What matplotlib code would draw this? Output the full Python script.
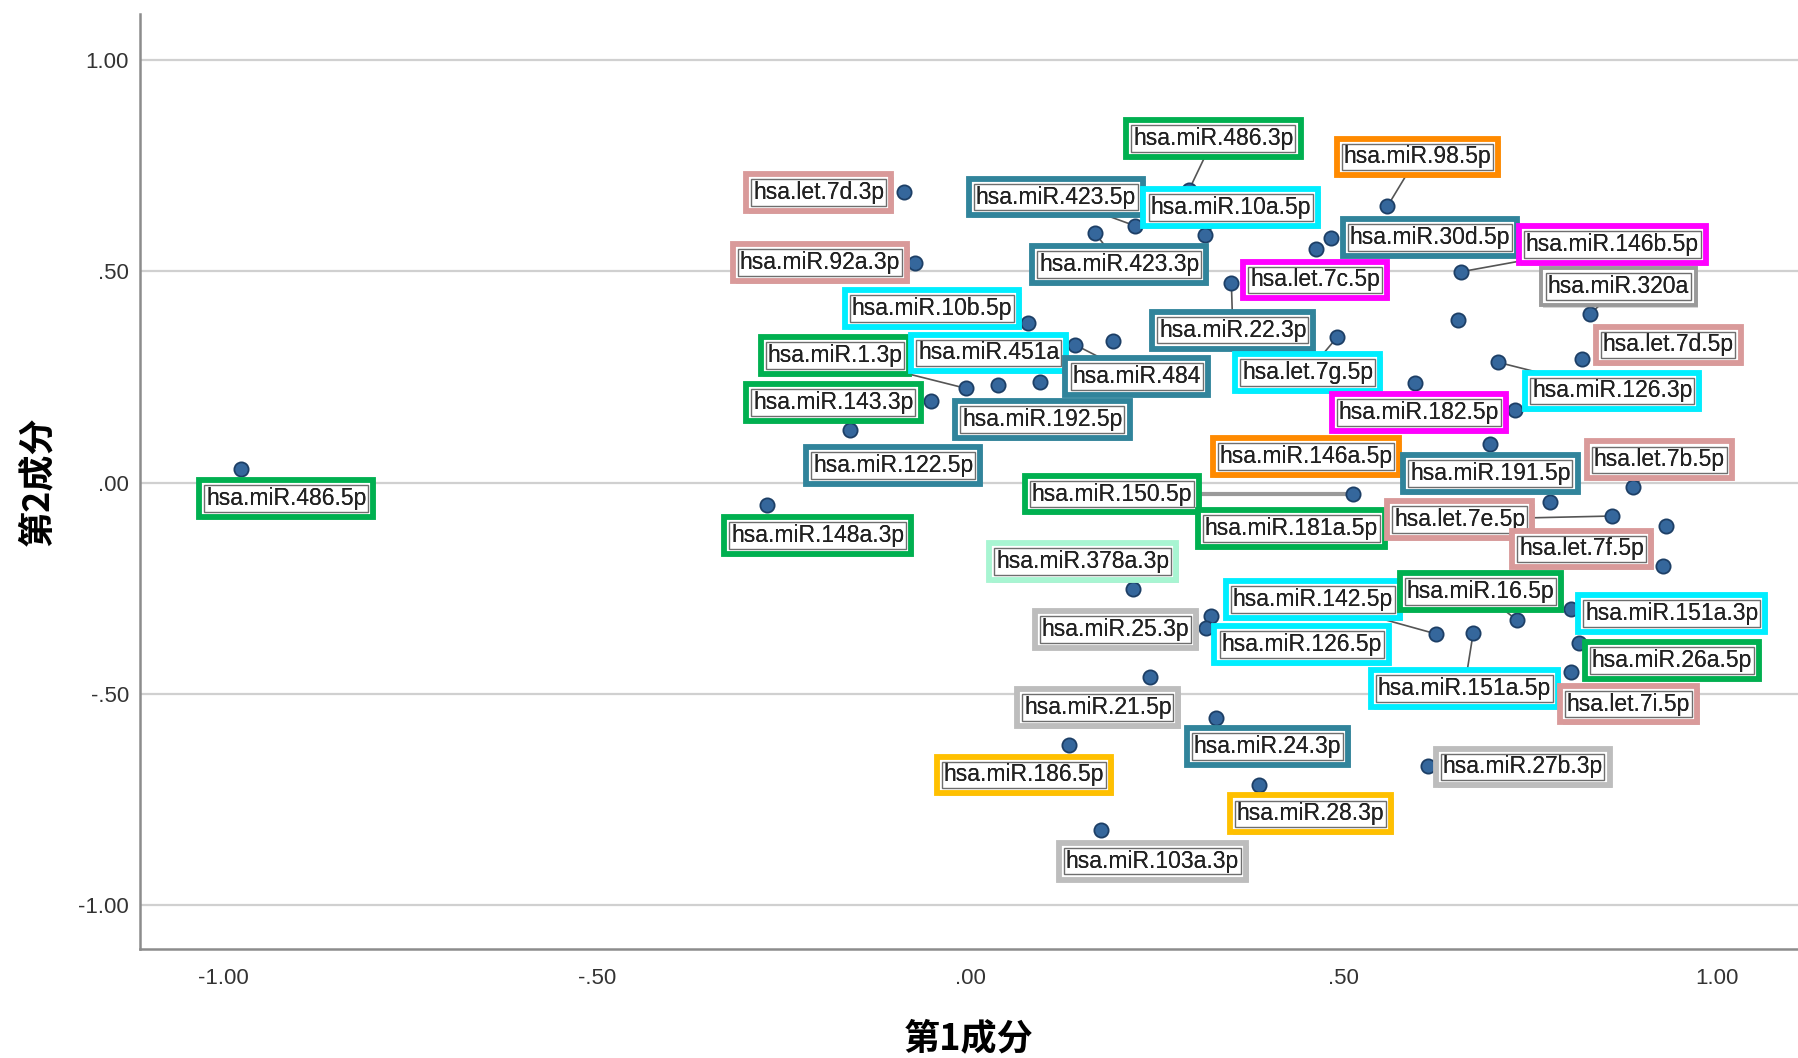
import numpy as np
import matplotlib
matplotlib.use("Agg")
from matplotlib import pyplot as plt
import matplotlib.patheffects as pe

# component loadings (first / second component) for each miRNA
names = ["hsa.miR.486.5p", "hsa.let.7d.3p", "hsa.miR.92a.3p", "hsa.miR.486.3p", "hsa.miR.98.5p",
         "hsa.miR.423.5p", "hsa.miR.10a.5p", "hsa.miR.423.3p", "hsa.miR.30d.5p", "hsa.miR.146b.5p",
         "hsa.let.7c.5p", "hsa.miR.320a", "hsa.miR.10b.5p", "hsa.miR.22.3p", "hsa.let.7d.5p",
         "hsa.miR.1.3p", "hsa.miR.451a", "hsa.miR.484", "hsa.let.7g.5p", "hsa.miR.126.3p",
         "hsa.miR.143.3p", "hsa.miR.192.5p", "hsa.miR.182.5p", "hsa.miR.122.5p", "hsa.miR.146a.5p",
         "hsa.miR.191.5p", "hsa.let.7b.5p", "hsa.miR.150.5p", "hsa.miR.181a.5p", "hsa.let.7e.5p",
         "hsa.miR.148a.3p", "hsa.let.7f.5p", "hsa.miR.378a.3p", "hsa.miR.142.5p", "hsa.miR.16.5p",
         "hsa.miR.151a.3p", "hsa.miR.25.3p", "hsa.miR.126.5p", "hsa.miR.26a.5p", "hsa.miR.151a.5p",
         "hsa.let.7i.5p", "hsa.miR.21.5p", "hsa.miR.24.3p", "hsa.miR.186.5p", "hsa.miR.27b.3p",
         "hsa.miR.28.3p", "hsa.miR.103a.3p"]
comp1 = [-0.977, -0.088, -0.074, 0.293, 0.559, 0.221, 0.315, 0.167, 0.484, 0.657,
         0.464, 0.831, 0.077, 0.350, 0.820, -0.005, 0.037, 0.141, 0.492, 0.707,
         -0.052, 0.094, 0.730, -0.161, 0.697, 0.777, 0.888, 0.513, 0.596, 0.860,
         -0.272, 0.932, 0.218, 0.624, 0.733, 0.805, 0.323, 0.316, 0.816, 0.674,
         0.805, 0.241, 0.330, 0.132, 0.613, 0.387, 0.175]
comp2 = [0.033, 0.687, 0.521, 0.692, 0.654, 0.608, 0.586, 0.592, 0.578, 0.499,
         0.554, 0.399, 0.377, 0.472, 0.293, 0.223, 0.231, 0.326, 0.345, 0.285,
         0.193, 0.239, 0.171, 0.125, 0.092, -0.046, -0.011, -0.027, 0.236, -0.079,
         -0.052, -0.103, -0.252, -0.358, -0.326, -0.299, -0.315, -0.345, -0.380, -0.355,
         -0.448, -0.461, -0.556, -0.621, -0.670, -0.716, -0.822]
# where each point's label sits
label_x = [-0.916, -0.203, -0.201, 0.326, 0.599, 0.115, 0.349, 0.200, 0.616, 0.860,
           0.462, 0.868, -0.051, 0.352, 0.935, -0.181, 0.025, 0.223, 0.452, 0.860,
           -0.183, 0.097, 0.601, -0.103, 0.450, 0.697, 0.923, 0.190, 0.430, 0.656,
           -0.204, 0.819, 0.151, 0.459, 0.684, 0.940, 0.195, 0.444, 0.940, 0.662,
           0.882, 0.171, 0.398, 0.072, 0.740, 0.456, 0.244]
label_y = [-0.038, 0.687, 0.521, 0.814, 0.771, 0.676, 0.651, 0.516, 0.581, 0.564,
           0.480, 0.464, 0.412, 0.361, 0.326, 0.301, 0.307, 0.252, 0.261, 0.217,
           0.190, 0.149, 0.166, 0.041, 0.062, 0.022, 0.054, -0.027, -0.109, -0.087,
           -0.125, -0.157, -0.187, -0.277, -0.258, -0.309, -0.347, -0.383, -0.421, -0.488,
           -0.524, -0.532, -0.624, -0.692, -0.673, -0.784, -0.896]
groups = ["green", "pink", "pink", "green", "orange", "teal", "cyan", "teal", "teal", "magenta",
          "magenta", "dgray", "cyan", "teal", "pink", "green", "cyan", "teal", "cyan", "cyan",
          "green", "teal", "magenta", "teal", "orange", "teal", "pink", "green", "green", "pink",
          "green", "pink", "mint", "cyan", "green", "cyan", "gray", "cyan", "green", "cyan",
          "pink", "gray", "teal", "gold", "gray", "gold", "gray"]
# labels pushed away from their point get a connector
leaders = {"hsa.miR.486.3p", "hsa.miR.98.5p", "hsa.miR.423.5p", "hsa.miR.10a.5p", "hsa.miR.423.3p",
           "hsa.miR.146b.5p", "hsa.miR.320a", "hsa.miR.22.3p", "hsa.miR.484", "hsa.let.7g.5p",
           "hsa.miR.126.3p", "hsa.miR.1.3p", "hsa.let.7b.5p", "hsa.let.7e.5p", "hsa.miR.150.5p",
           "hsa.miR.142.5p", "hsa.miR.151a.5p", "hsa.miR.16.5p"}

# points whose labels were suppressed
extra_x = [0.654, 0.192, 0.928]
extra_y = [0.385, 0.336, -0.198]

palette = {"green": "#00b050", "pink": "#d99a9a", "teal": "#31849b", "cyan": "#00eeff",
           "orange": "#ff8a00", "magenta": "#ff00ff", "gray": "#bdbdbd", "dgray": "#9a9a9a",
           "gold": "#ffc000", "mint": "#a8f5d2"}

ticks = [-1.0, -0.5, 0.0, 0.5, 1.0]
tick_labels = ["-1.00", "-.50", ".00", ".50", "1.00"]

plt.rcParams['font.family'] = ['Liberation Sans', 'DejaVu Sans']

fig = plt.figure(figsize=(17.98, 10.58), dpi=100)
ax = fig.add_axes([0.0778, 0.103, 0.9222, 0.884])
ax.set_xlim(-1.112, 1.109)
ax.set_ylim(-1.104, 1.110)

ax.set_xticks(ticks)
ax.set_xticklabels(tick_labels)
ax.set_yticks(ticks)
ax.set_yticklabels(tick_labels)
ax.tick_params(length=0, labelsize=16, labelcolor="#333333")
ax.tick_params(axis='x', pad=14)
ax.tick_params(axis='y', pad=8)
ax.yaxis.grid(True, color="#d0d0d0", lw=1.6)
ax.set_axisbelow(True)
for s in ["top", "right"]:
    ax.spines[s].set_visible(False)
for s in ["left", "bottom"]:
    ax.spines[s].set_color("#8c8c8c")
    ax.spines[s].set_linewidth(1.8)

cjk = ['Noto Sans CJK SC', 'DejaVu Sans']
ax.set_xlabel("第1成分", family=cjk, fontsize=26, fontweight='bold', labelpad=22)
ax.set_ylabel("第2成分", family=cjk, fontsize=26, fontweight='bold', labelpad=16)

# connectors first, so labels cover the inner part
for n, x, y, lx, ly in zip(names, comp1, comp2, label_x, label_y):
    if n in leaders:
        if n == "hsa.miR.150.5p":
            ax.plot([x, lx], [y, ly], color="#9a9a9a", lw=3, zorder=2)
        else:
            ax.plot([x, lx], [y, ly], color="#555555", lw=1.2, zorder=2)

ax.scatter(comp1 + extra_x, comp2 + extra_y, s=105, c="#35679c", edgecolors="#1d3f66",
           linewidths=1.3, zorder=3)

for n, lx, ly, g in zip(names, label_x, label_y, groups):
    col = palette[g]
    lw = 2.8 if g == "dgray" else 4.2
    t = ax.text(lx, ly, n, ha='center', va='center', fontsize=16.5, color="#222222", zorder=4,
                bbox=dict(boxstyle='square,pad=0.3', fc='white', ec=col, lw=lw))
    t.get_bbox_patch().set_path_effects([pe.withSimplePatchShadow(offset=(2, -2),
                                                                  shadow_rgbFace='#888888', alpha=0.35)])
    ax.text(lx, ly, n, ha='center', va='center', fontsize=16.5, color="#222222", zorder=4,
            bbox=dict(boxstyle='square,pad=0.08', fc='none', ec='#6e6e6e', lw=1.0))

fig.savefig("out.png", dpi=100)
